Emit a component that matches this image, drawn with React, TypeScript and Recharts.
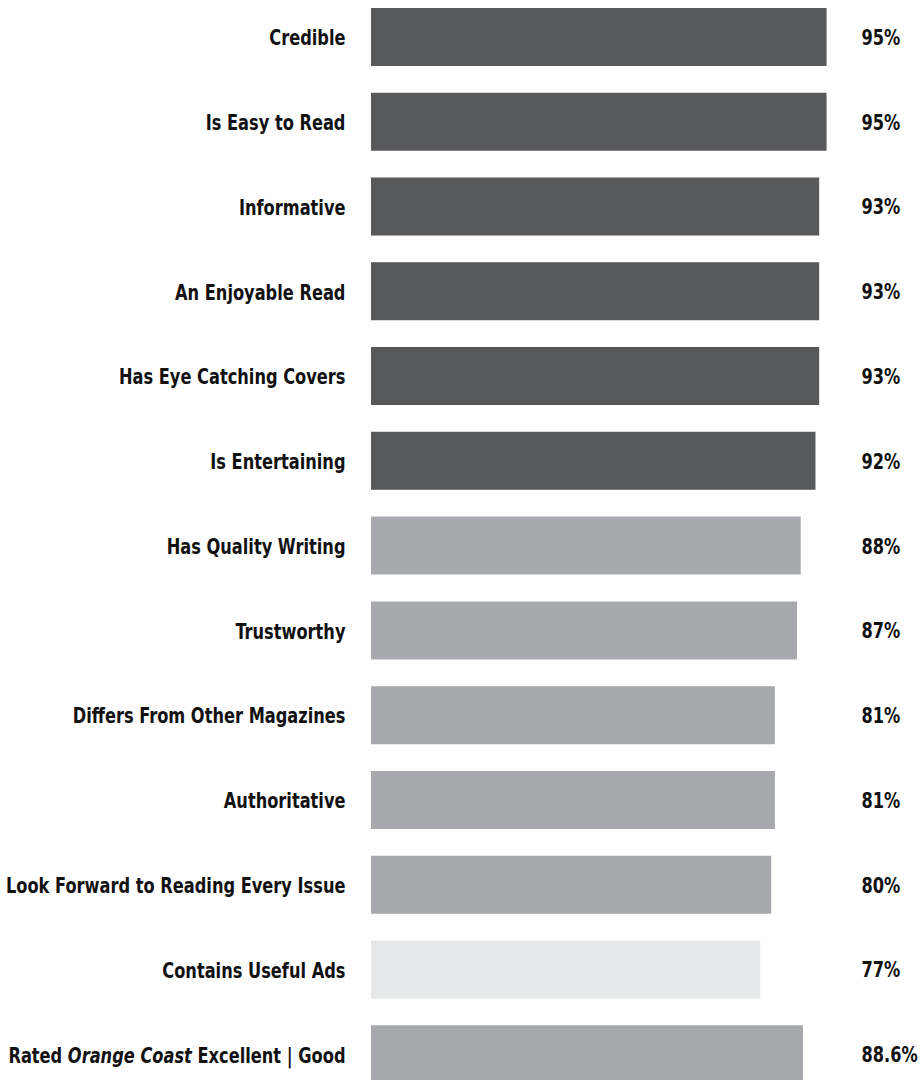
import React from 'react';
import { BarChart, Bar, XAxis, YAxis, Cell, LabelList } from 'recharts';

// survey attributes, top to bottom
const attributes = [
  'Credible',
  'Is Easy to Read',
  'Informative',
  'An Enjoyable Read',
  'Has Eye Catching Covers',
  'Is Entertaining',
  'Has Quality Writing',
  'Trustworthy',
  'Differs From Other Magazines',
  'Authoritative',
  'Look Forward to Reading Every Issue',
  'Contains Useful Ads',
  'Rated Orange Coast Excellent | Good',
];

// percent of readers who agree
const percents = [95, 95, 93, 93, 93, 92, 88, 87, 81, 81, 80, 77, 88.6];

// shade group of each bar
const tiers = ['top', 'top', 'top', 'top', 'top', 'top', 'mid', 'mid', 'mid', 'mid', 'mid', 'low', 'mid'];

const tierColors: Record<string, string> = {
  top: '#58595b',
  mid: '#a7a9ac',
  low: '#e6e7e8',
};

// bars in the original start well left of zero
const AXIS_MIN = -28.5;
const AXIS_MAX = 100;

// original face is narrower than DejaVu Condensed, so squeeze it a bit more
const FONT = '"DejaVu Sans Condensed", "DejaVu Sans", sans-serif';
const FONT_SIZE = 22;
const SQUEEZE = 0.82;
const LABEL_X = 345.5;
const VALUE_X = 861.5;

const data = attributes.map((name, i) => ({
  name,
  value: percents[i],
  tier: tiers[i],
}));

const AttributeTick = (props: any) => {
  const { y, payload } = props;
  const label: string = payload.value;
  const italic = 'Orange Coast';
  const idx = label.indexOf(italic);
  return (
    <text
      transform={`translate(${LABEL_X},${y}) scale(${SQUEEZE},1)`}
      x={0}
      y={0}
      dy="0.36em"
      textAnchor="end"
      fontFamily={FONT}
      fontWeight="bold"
      fontSize={FONT_SIZE}
      fill="#111111"
    >
      {idx < 0 ? (
        label
      ) : (
        <>
          <tspan>{label.slice(0, idx)}</tspan>
          <tspan fontStyle="italic">{italic}</tspan>
          <tspan>{label.slice(idx + italic.length)}</tspan>
        </>
      )}
    </text>
  );
};

const ValueLabel = (props: any) => {
  const { y, height, value } = props;
  return (
    <text
      transform={`translate(${VALUE_X},${y + height / 2}) scale(${SQUEEZE},1)`}
      x={0}
      y={0}
      dy="0.36em"
      textAnchor="start"
      fontFamily={FONT}
      fontWeight="bold"
      fontSize={FONT_SIZE}
      fill="#111111"
    >
      {`${value}%`}
    </text>
  );
};

export default function App() {
  return (
    <div
      style={{
        position: 'absolute',
        left: 0,
        top: 0,
        width: 923,
        height: 1080,
        overflow: 'hidden',
        background: '#ffffff',
      }}
    >
      <div style={{ marginTop: -5 }}>
        <BarChart
          width={923}
          height={1102}
          data={data}
          layout="vertical"
          margin={{ top: 0, right: 78, bottom: 0, left: 0 }}
        >
          <XAxis type="number" domain={[AXIS_MIN, AXIS_MAX]} hide allowDataOverflow />
          <YAxis
            type="category"
            dataKey="name"
            width={371}
            interval={0}
            tickLine={false}
            axisLine={false}
            tick={<AttributeTick />}
          />
          <Bar
            dataKey={(d: any) => [AXIS_MIN, d.value]}
            barSize={58}
            isAnimationActive={false}
          >
            {data.map((d) => (
              <Cell key={d.name} fill={tierColors[d.tier]} />
            ))}
            <LabelList dataKey="value" content={<ValueLabel />} />
          </Bar>
        </BarChart>
      </div>
    </div>
  );
}
